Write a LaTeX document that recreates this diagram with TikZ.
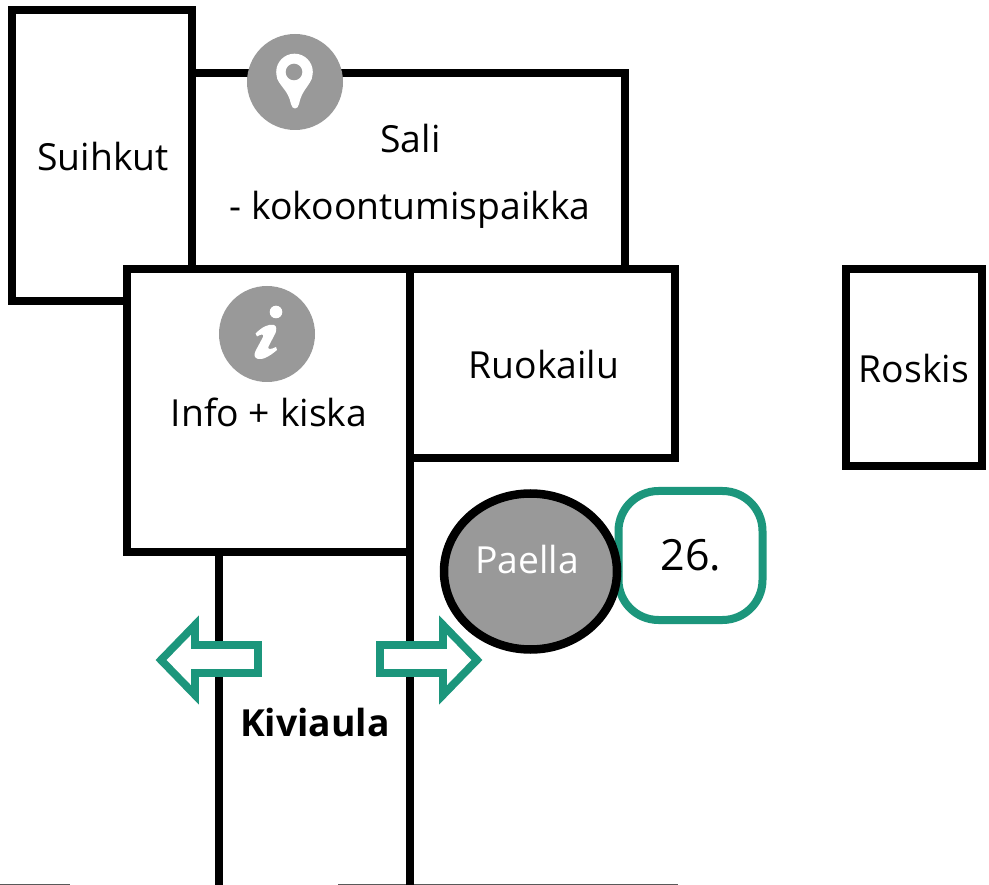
\documentclass[tikz,border=0pt]{standalone}
\usepackage{fontspec}
\usetikzlibrary{shapes.geometric}
\setmainfont{Open Sans}
\definecolor{mapgreen}{HTML}{1C967C}
\definecolor{mapgrey}{HTML}{999999}
\tikzset{
  wall/.style={draw=black,line width=7.8pt,miter limit=10},
  maptext/.style={font=\fontsize{37.3}{40}\selectfont,inner sep=0pt,anchor=base,text=black},
  markerdisc/.style={circle,fill=mapgrey,minimum size=96pt,inner sep=0pt},
  greenarrow/.style={draw=mapgreen,line width=7.8pt,fill=white,line join=miter,miter limit=10},
  thinline/.style={draw=black!65,line width=1.2pt}
}
\begin{document}
\begin{tikzpicture}[x=1pt,y=-1pt]
\useasboundingbox (0,0) rectangle (989,885);
\fill[white] (0,0) rectangle (989,885);
% thin bottom lines
\coordinate (b1) at (0,884.3); \coordinate (b2) at (70,884.3);
\coordinate (b3) at (338,884.3); \coordinate (b4) at (678,884.3);
\draw[thinline] (b1) -- (b2);
\draw[thinline] (b3) -- (b4);
% buildings
\draw[wall] (192,73) -- (625,73) -- (625,269);
\draw[wall] (12,10) rectangle (192,301);
\draw[wall,fill=white] (127,269) rectangle (410,552);
\draw[wall] (410,269) -- (675,269) -- (675,458) -- (410,458);
\draw[wall] (846,269) rectangle (982,466);
\coordinate (c1) at (219,552); \coordinate (c2) at (219,885);
\coordinate (c3) at (410,552); \coordinate (c4) at (410,885);
\draw[wall] (c1) -- (c2);
\draw[wall] (c3) -- (c4);
% number box and paella
\node[draw=mapgreen,line width=8pt,rounded corners=40pt,minimum width=144pt,minimum height=129pt,inner sep=0pt] (num) at (690.5,555.5) {};
\node[ellipse,draw=black,line width=8.5pt,fill=mapgrey,minimum width=173pt,minimum height=156pt,inner sep=0pt] (pae) at (530.5,571.5) {};
% markers
\node[markerdisc] (pin) at (295,82) {};
\fill[white] (294.5,72) circle[radius=18.3];
\fill[white] (277,78) .. controls (281,88) and (288,90) .. (291,104)
  .. controls (292,110) and (298,110) .. (299,104)
  .. controls (302,90) and (308,88) .. (312,78) -- cycle;
\fill[mapgrey] (294,72) circle[radius=8.3];
\node[markerdisc] (inf) at (267,334) {};
\fill[white] (276,312) circle[radius=6.3];
\fill[white] (255.5,333.5) .. controls (262,327) and (269,323.5) .. (274,325)
  .. controls (277,326) and (276.5,330) .. (275.5,333)
  -- (268.5,346.5) .. controls (267.5,349.5) and (270,350) .. (276,347)
  -- (277,350) .. controls (270,356) and (263,360) .. (258,359)
  .. controls (254,358) and (254,354.5) .. (255.5,351)
  -- (263,337) .. controls (264,333.5) and (261,334) .. (257,336.5) -- cycle;
% arrows
\draw[greenarrow] (258,645) -- (195,645) -- (195,625) -- (161,660) -- (195,695) -- (195,673) -- (258,673) -- cycle;
\draw[greenarrow] (380,645) -- (443,645) -- (443,625) -- (477,660) -- (443,695) -- (443,673) -- (380,673) -- cycle;
% labels
\node[maptext] (t1) at (103,171) {Suihkut};
\node[maptext] (t2) at (410.5,153) {Sali};
\node[maptext] (t3) at (410,220) {- kokoontumispaikka};
\node[maptext] (t4) at (544,379) {Ruokailu};
\node[maptext] (t5) at (269,427) {Info + kiska};
\node[maptext] (t6) at (914,383) {Roskis};
\node[maptext,text=white] (t7) at (527,573) {Paella};
\node[maptext,font=\fontsize{43}{46}\selectfont] (t8) at (691,570) {26.};
\node[maptext,font=\fontsize{37.3}{40}\selectfont\bfseries] (t9) at (315,736) {Kiviaula};
\end{tikzpicture}
\end{document}
